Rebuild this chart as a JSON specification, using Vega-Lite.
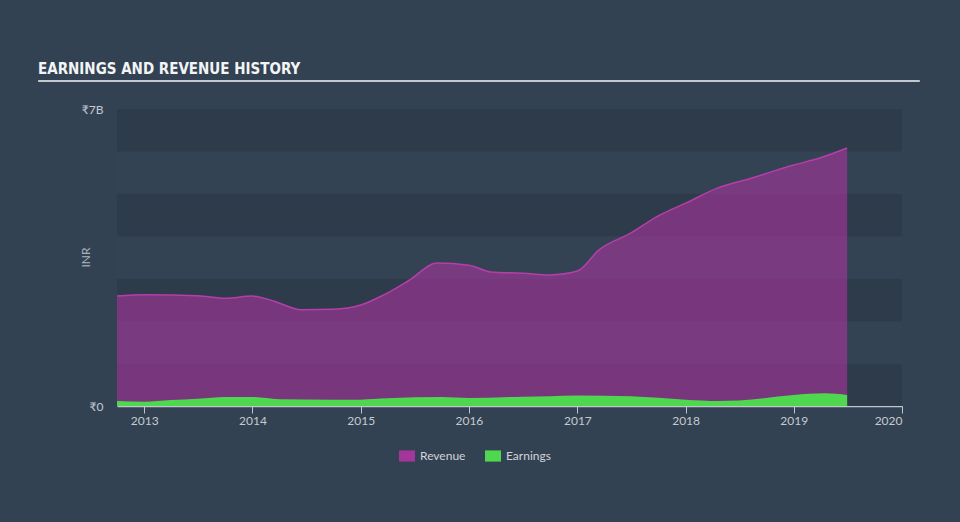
{
  "$schema": "https://vega.github.io/schema/vega-lite/v6.json",
  "width": 785,
  "height": 297,
  "autosize": "none",
  "padding": {"left": 117, "top": 109, "right": 58, "bottom": 116},
  "background": "#334252",
  "title": {
    "text": "EARNINGS AND REVENUE HISTORY",
    "anchor": "start",
    "frame": "group",
    "dx": -79,
    "offset": -9,
    "baseline": "alphabetic",
    "font": "DejaVu Sans Condensed",
    "fontSize": 15,
    "fontWeight": "bold",
    "color": "#f2f4f6"
  },
  "config": {
    "view": {"stroke": null},
    "font": "Lato",
    "legend": {"symbolOpacity": 1}
  },
  "datasets": {
    "bands": [
      {"lo": 0, "hi": 1, "tone": "dark"},
      {"lo": 1, "hi": 2, "tone": "light"},
      {"lo": 2, "hi": 3, "tone": "dark"},
      {"lo": 3, "hi": 4, "tone": "light"},
      {"lo": 4, "hi": 5, "tone": "dark"},
      {"lo": 5, "hi": 6, "tone": "light"},
      {"lo": 6, "hi": 7, "tone": "dark"}
    ],
    "revenue": [
      {"date": "2012-10-01", "value": 2.59, "series": "Revenue"},
      {"date": "2013-01-01", "value": 2.62, "series": "Revenue"},
      {"date": "2013-07-01", "value": 2.60, "series": "Revenue"},
      {"date": "2013-10-01", "value": 2.54, "series": "Revenue"},
      {"date": "2014-01-01", "value": 2.59, "series": "Revenue"},
      {"date": "2014-03-15", "value": 2.47, "series": "Revenue"},
      {"date": "2014-06-15", "value": 2.27, "series": "Revenue"},
      {"date": "2014-10-01", "value": 2.28, "series": "Revenue"},
      {"date": "2015-01-01", "value": 2.38, "series": "Revenue"},
      {"date": "2015-03-20", "value": 2.62, "series": "Revenue"},
      {"date": "2015-06-15", "value": 2.97, "series": "Revenue"},
      {"date": "2015-09-15", "value": 3.37, "series": "Revenue"},
      {"date": "2016-01-01", "value": 3.32, "series": "Revenue"},
      {"date": "2016-03-15", "value": 3.16, "series": "Revenue"},
      {"date": "2016-07-01", "value": 3.13, "series": "Revenue"},
      {"date": "2016-10-01", "value": 3.09, "series": "Revenue"},
      {"date": "2017-01-01", "value": 3.18, "series": "Revenue"},
      {"date": "2017-03-15", "value": 3.68, "series": "Revenue"},
      {"date": "2017-07-01", "value": 4.08, "series": "Revenue"},
      {"date": "2017-10-01", "value": 4.48, "series": "Revenue"},
      {"date": "2018-01-01", "value": 4.78, "series": "Revenue"},
      {"date": "2018-04-20", "value": 5.14, "series": "Revenue"},
      {"date": "2018-08-10", "value": 5.37, "series": "Revenue"},
      {"date": "2019-01-01", "value": 5.68, "series": "Revenue"},
      {"date": "2019-04-01", "value": 5.85, "series": "Revenue"},
      {"date": "2019-06-30", "value": 6.08, "series": "Revenue"}
    ],
    "earnings": [
      {"date": "2012-10-01", "value": 0.12, "series": "Earnings"},
      {"date": "2013-01-01", "value": 0.10, "series": "Earnings"},
      {"date": "2013-04-01", "value": 0.14, "series": "Earnings"},
      {"date": "2013-07-01", "value": 0.17, "series": "Earnings"},
      {"date": "2013-10-01", "value": 0.21, "series": "Earnings"},
      {"date": "2014-01-01", "value": 0.21, "series": "Earnings"},
      {"date": "2014-04-01", "value": 0.16, "series": "Earnings"},
      {"date": "2014-10-01", "value": 0.15, "series": "Earnings"},
      {"date": "2015-01-01", "value": 0.15, "series": "Earnings"},
      {"date": "2015-04-01", "value": 0.18, "series": "Earnings"},
      {"date": "2015-10-01", "value": 0.21, "series": "Earnings"},
      {"date": "2016-01-01", "value": 0.19, "series": "Earnings"},
      {"date": "2016-07-01", "value": 0.22, "series": "Earnings"},
      {"date": "2016-10-01", "value": 0.23, "series": "Earnings"},
      {"date": "2017-01-01", "value": 0.25, "series": "Earnings"},
      {"date": "2017-07-01", "value": 0.23, "series": "Earnings"},
      {"date": "2018-01-01", "value": 0.15, "series": "Earnings"},
      {"date": "2018-04-20", "value": 0.12, "series": "Earnings"},
      {"date": "2018-07-01", "value": 0.13, "series": "Earnings"},
      {"date": "2019-01-01", "value": 0.26, "series": "Earnings"},
      {"date": "2019-04-15", "value": 0.30, "series": "Earnings"},
      {"date": "2019-06-30", "value": 0.26, "series": "Earnings"}
    ],
    "underline": [
      {"start": "2012-01-09", "end": "2020-03-01", "level": 7.66}
    ]
  },
  "layer": [
    {
      "data": {"name": "bands"},
      "mark": {"type": "rect"},
      "encoding": {
        "y": {
          "field": "lo",
          "type": "quantitative",
          "scale": {"domain": [0, 7], "nice": false},
          "axis": {
            "values": [0, 7],
            "labelExpr": "datum.value == 0 ? '₹0' : '₹' + datum.value + 'B'",
            "domain": false,
            "ticks": false,
            "grid": false,
            "labelPadding": 14,
            "labelColor": "#c5cad0",
            "labelFontSize": 12,
            "title": "INR",
            "titleColor": "#aab3bd",
            "titleFontSize": 12,
            "titleFontWeight": "normal",
            "titleX": -32,
            "titleY": 148,
            "titleAngle": -90,
            "titleAlign": "center",
            "titleBaseline": "middle"
          }
        },
        "y2": {"field": "hi"},
        "fill": {
          "field": "tone",
          "type": "nominal",
          "scale": {"domain": ["dark", "light"], "range": ["#2e3b4a", "#344354"]},
          "legend": null
        }
      }
    },
    {
      "data": {"name": "revenue"},
      "mark": {"type": "area", "interpolate": "monotone", "fillOpacity": 0.63},
      "encoding": {
        "x": {
          "field": "date",
          "type": "temporal",
          "scale": {"domain": [{"year": 2012, "month": 10, "date": 1}, {"year": 2020, "month": 1, "date": 1}]},
          "axis": {
            "values": [
              {"year": 2013, "month": 1, "date": 1},
              {"year": 2014, "month": 1, "date": 1},
              {"year": 2015, "month": 1, "date": 1},
              {"year": 2016, "month": 1, "date": 1},
              {"year": 2017, "month": 1, "date": 1},
              {"year": 2018, "month": 1, "date": 1},
              {"year": 2019, "month": 1, "date": 1},
              {"year": 2020, "month": 1, "date": 1}
            ],
            "format": "%Y",
            "title": null,
            "grid": false,
            "domainColor": "#c0c6cc",
            "domainWidth": 1.5,
            "tickColor": "#c0c6cc",
            "tickSize": 7,
            "labelColor": "#c5cad0",
            "labelFontSize": 12,
            "labelPadding": 2
          }
        },
        "y": {"field": "value", "type": "quantitative"},
        "color": {
          "field": "series",
          "type": "nominal",
          "scale": {"domain": ["Revenue", "Earnings"], "range": ["#a3369a", "#4fd84f"]},
          "legend": {
            "title": null,
            "orient": "none",
            "legendX": 282,
            "legendY": 339,
            "direction": "horizontal",
            "symbolType": "M-1,-0.7H1V0.7H-1Z",
            "symbolSize": 256,
            "symbolStrokeWidth": 0,
            "labelColor": "#d0d4d8",
            "labelFontSize": 12,
            "labelOffset": 5,
            "columnPadding": 19
          }
        }
      }
    },
    {
      "data": {"name": "revenue"},
      "mark": {"type": "line", "interpolate": "monotone", "stroke": "#b43fa8", "strokeWidth": 1.5},
      "encoding": {
        "x": {"field": "date", "type": "temporal"},
        "y": {"field": "value", "type": "quantitative"}
      }
    },
    {
      "data": {"name": "earnings"},
      "mark": {"type": "area", "interpolate": "monotone", "fillOpacity": 1},
      "encoding": {
        "x": {"field": "date", "type": "temporal"},
        "y": {"field": "value", "type": "quantitative"},
        "color": {"field": "series", "type": "nominal"}
      }
    },
    {
      "data": {"name": "underline"},
      "mark": {"type": "rule", "stroke": "#c3c8ce", "strokeWidth": 2},
      "encoding": {
        "x": {"field": "start", "type": "temporal"},
        "x2": {"field": "end"},
        "y": {"field": "level", "type": "quantitative"}
      }
    }
  ]
}
